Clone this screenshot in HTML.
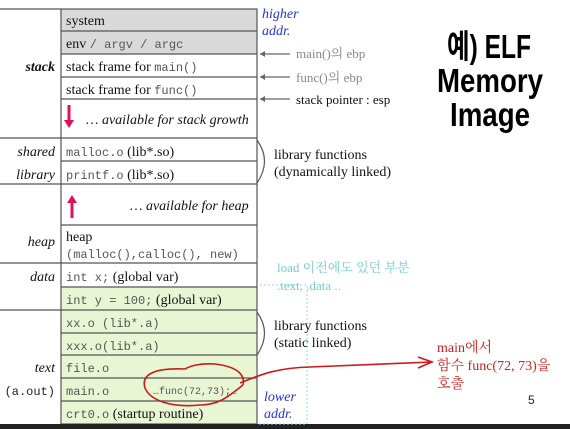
<!DOCTYPE html>
<html><head><meta charset="utf-8"><style>
html,body{margin:0;padding:0;background:#fff}
svg{display:block}
.s{font-family:"Liberation Serif","Noto Serif CJK SC",serif;font-size:14px;fill:#111}
.m{font-family:"Liberation Mono",monospace;font-size:12px;fill:#555}
.i{font-style:italic}
.t{font-family:'Liberation Sans','Noto Sans CJK KR',sans-serif;font-weight:bold;font-size:33px;fill:#000}
</style></head><body>
<svg width="570" height="429" viewBox="0 0 570 429" xmlns="http://www.w3.org/2000/svg">
<rect x="61" y="9" width="196" height="45" fill="#d9d9d9"/>
<rect x="61" y="287" width="196" height="137" fill="#e8f6d4"/>
<g stroke="#555" stroke-width="1.2" fill="none">
<rect x="61" y="9" width="196" height="415"/>
<path d="M61 31H257M61 54H257M61 77H257M61 99H257M61 138H257M61 161H257M61 184H257M61 225H257M61 263H257M61 287H257M61 310H257M61 333H257M61 355H257M61 378H257M61 401H257"/>
<path d="M0 9H61M0 138H61M0 184H61M0 263H61M0 310H61"/>
<path d="M257 140 Q272 161 257 183"/>
<path d="M257 312 Q272 333 257 355"/>
<path d="M290 54H260M290 77H260M290 99H260" stroke="#666"/>
</g>
<path d="M260 54l5 -3v6zM260 77l5 -3v6zM260 99l5 -3v6z" fill="#666"/>
<rect x="0" y="424" width="570" height="5" fill="#222"/>
<path d="M260 285H307V424H258" stroke="#9dd" stroke-dasharray="2,2" fill="none"/>
<path d="M69 105V122" stroke="#e0105a" stroke-width="3"/><path d="M64 120l5 8 5 -8z" fill="#e0105a"/>
<path d="M72 201V218" stroke="#e0105a" stroke-width="3"/><path d="M67 203l5 -8 5 8z" fill="#e0105a"/>
<text class="s" x="66" y="25">system</text>
<text class="s" x="66" y="48">env <tspan class="m">/ argv / argc</tspan></text>
<text class="s" x="66" y="71">stack frame for <tspan class="m">main()</tspan></text>
<text class="s" x="66" y="94">stack frame for <tspan class="m">func()</tspan></text>
<text class="s i" x="86" y="124">… available for stack growth</text>
<text class="s" x="66" y="156"><tspan class="m">malloc.o</tspan> (lib*.so)</text>
<text class="s" x="66" y="179"><tspan class="m">printf.o</tspan> (lib*.so)</text>
<text class="s i" x="130" y="210">… available for heap</text>
<text class="s" x="66" y="241">heap</text>
<text class="m" x="66" y="258">(malloc(),calloc(), new)</text>
<text class="s" x="66" y="281"><tspan class="m">int x;</tspan> (global var)</text>
<text class="s" x="66" y="304"><tspan class="m">int y = 100;</tspan> (global var)</text>
<text class="m" x="66" y="327">xx.o (lib*.a)</text>
<text class="m" x="66" y="350">xxx.o(lib*.a)</text>
<text class="m" x="66" y="372">file.o</text>
<text class="m" x="66" y="395">main.o</text>
<text class="m" x="153" y="394" style="font-size:10px">…func(72,73);…</text>
<text class="s" x="66" y="418"><tspan class="m">crt0.o</tspan> (startup routine)</text>
<g class="s i" text-anchor="end">
<text x="55" y="71" font-weight="bold">stack</text>
<text x="55" y="156">shared</text>
<text x="55" y="179">library</text>
<text x="55" y="246">heap</text>
<text x="55" y="281">data</text>
<text x="55" y="372">text</text>
</g>
<text class="m" x="55" y="395" text-anchor="end" style="fill:#222">(a.out)</text>
<text class="s i" x="262" y="18" style="fill:#2233dd">higher</text>
<text class="s i" x="262" y="35" style="fill:#2233dd">addr.</text>
<text class="s" x="296" y="58" style="fill:#888;font-size:13px">main()의 ebp</text>
<text class="s" x="296" y="82" style="fill:#888;font-size:13px">func()의 ebp</text>
<text class="s" x="296" y="104" style="font-size:13px">stack pointer : esp</text>
<text class="s" x="274" y="159">library functions</text>
<text class="s" x="274" y="176">(dynamically linked)</text>
<text class="s" x="274" y="330">library functions</text>
<text class="s" x="274" y="347">(static linked)</text>
<text class="s" x="277" y="272" style="fill:#7cc;font-size:13px">load 이전에도 있던 부분</text>
<text class="s" x="277" y="290" style="fill:#7cc;font-size:13px">.text, .data ..</text>
<text class="s i" x="264" y="401" style="fill:#2233dd">lower</text>
<text class="s i" x="264" y="418" style="fill:#2233dd">addr.</text>
<text class="t" x="447" y="58" textLength="84" lengthAdjust="spacingAndGlyphs">예) ELF</text>
<text class="t" x="437" y="92" textLength="106" lengthAdjust="spacingAndGlyphs">Memory</text>
<text class="t" x="450" y="126" textLength="80" lengthAdjust="spacingAndGlyphs">Image</text>
<text class="s" x="437" y="352" style="fill:#d02020">main에서</text>
<text class="s" x="437" y="370" style="fill:#d02020">함수 func(72, 73)을</text>
<text class="s" x="437" y="388" style="fill:#d02020">호출</text>
<text x="528" y="404" style="font-family:'Liberation Sans',sans-serif;font-size:12px;fill:#222">5</text>
<g stroke="#cc1a1a" stroke-width="1.6" fill="none">
<path d="M243 385 C230 395 220 405 200 405 C170 408 150 400 145 388 C140 372 160 368 185 369 C190 366 200 363 215 364 C232 366 246 372 243 385"/>
<path d="M240 383 C260 375 275 368 310 367 C360 365 400 363 432 362"/>
<path d="M418 357 L432 362 L418 368"/>
</g>
</svg>
</body></html>
